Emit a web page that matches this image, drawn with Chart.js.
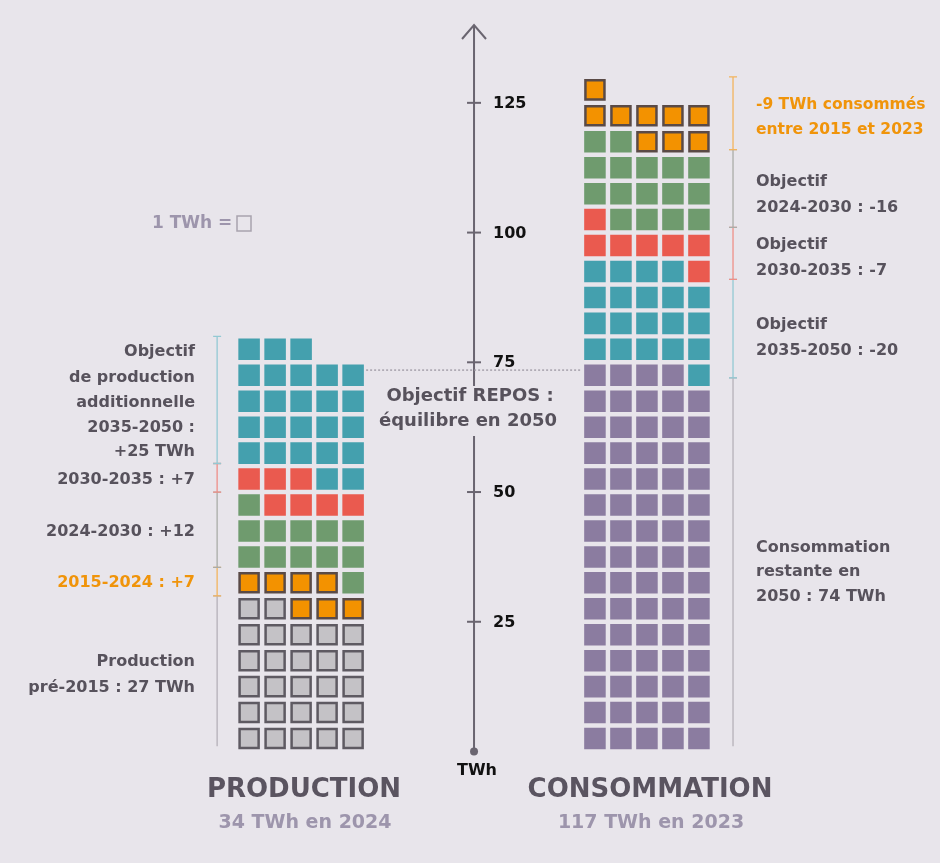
<!DOCTYPE html>
<html lang="fr">
<head>
<meta charset="utf-8">
<title>Production et consommation (TWh)</title>
<script src="https://cdn.jsdelivr.net/npm/chart.js@4/dist/chart.umd.min.js"></script>
<style>
  html, body { margin: 0; padding: 0; background: #E8E5EB; }
  #wrap { position: relative; width: 940px; height: 863px; }
</style>
</head>
<body>
<div id="wrap"><canvas id="chart"></canvas></div>
<script>
// Production, TWh par période (empilées du bas vers le haut)
const prodSeries = ['Production pré-2015', '2015-2024', '2024-2030', '2030-2035', '2035-2050'];
const prodValues = [27, 7, 12, 7, 25];

// Consommation, TWh par tranche (empilées du bas vers le haut)
const consSeries = ['Consommation restante en 2050', 'Objectif 2035-2050', 'Objectif 2030-2035', 'Objectif 2024-2030', '2015-2023'];
const consValues = [74, 20, 7, 16, 9];

// Graduations de l'axe vertical
const yTickValues = [25, 50, 75, 100, 125];

// Niveau d'équilibre visé (pointillés)
const equilibreLevel = 73.5;

// Étendue des accolades (TWh), même ordre que les séries
const prodBrackets = [[1, 30], [30, 35.5], [35.5, 50], [50, 55.5], [55.5, 80]];
const consBrackets = [[1, 72], [72, 91], [91, 101], [101, 116], [116, 130]];

// ---- mise en forme ----
const PER_ROW = 5;
const BG = '#E8E5EB';
const C = {
  grey: '#C4C2C6', greyEdge: '#5E5A62',
  orange: '#F39200', orangeEdge: '#5A4A46',
  green: '#6F9B6E', red: '#EA5A4F', teal: '#44A0AE', purple: '#8B7CA0',
  text: '#57525C', title: '#5A5460', sub: '#9D95AC', orangeText: '#F0940A',
  axis: '#6A6570'
};
const prodStyle = [
  { fill: C.grey, edge: C.greyEdge, bw: 2.5 },
  { fill: C.orange, edge: C.orangeEdge, bw: 2.5 },
  { fill: C.green }, { fill: C.red }, { fill: C.teal }
];
const consStyle = [
  { fill: C.purple }, { fill: C.teal }, { fill: C.red }, { fill: C.green },
  { fill: C.orange, edge: C.orangeEdge, bw: 2.5 }
];
const prodBracketColors = ['#B5B0B8', '#F2B45E', '#AAACA7', '#EE8F88', '#93C9D3'];
const consBracketColors = ['#B5B0B8', '#93C9D3', '#EE8F88', '#AAACA7', '#F2B45E'];

const PROD_X0 = -8.65;   // colonne gauche de la production (unité = une case)
const CONS_X0 = 4.65;    // colonne gauche de la consommation
const PROD_BRACKET_X = -9.88;
const CONS_BRACKET_X = 9.96;

// Une case = 1 TWh, rangées de 5, remplies de gauche à droite puis vers le haut
function waffle(values, x0) {
  let k = 0;
  return values.map(v => {
    const pts = [];
    for (let i = 0; i < v; i++, k++) {
      pts.push({ x: x0 + (k % PER_ROW), y: Math.floor(k / PER_ROW) * PER_ROW + PER_ROW / 2 });
    }
    return pts;
  });
}

function rowPitch(chart) {
  const y = chart.scales.y;
  return Math.abs(y.getPixelForValue(PER_ROW) - y.getPixelForValue(0));
}

function makeDataset(label, data, st) {
  const bw = st.bw || 0;
  const r = ctx => (rowPitch(ctx.chart) * 0.83 - bw) / Math.SQRT2;
  return {
    label, data,
    pointStyle: 'rect',
    backgroundColor: st.fill,
    borderColor: st.edge || st.fill,
    borderWidth: bw,
    pointRadius: r,
    pointHoverRadius: r,
    pointBorderWidth: bw,
    pointHoverBorderWidth: bw
  };
}

const prodPts = waffle(prodValues, PROD_X0);
const consPts = waffle(consValues, CONS_X0);
const datasets = [
  ...prodSeries.map((s, i) => makeDataset('Production ' + s, prodPts[i], prodStyle[i])),
  ...consSeries.map((s, i) => makeDataset('Consommation ' + s, consPts[i], consStyle[i]))
];

const FONT = '"DejaVu Sans", sans-serif';

function txt(ctx, s, x, y, size, color, align) {
  ctx.font = 'bold ' + size + 'px ' + FONT;
  ctx.fillStyle = color;
  ctx.textAlign = align || 'left';
  ctx.textBaseline = 'middle';
  ctx.fillText(s, x, y);
}

const decor = {
  id: 'decor',
  afterDatasetsDraw(chart) {
    const ctx = chart.ctx;
    const xs = chart.scales.x, ys = chart.scales.y;
    const ax = xs.getPixelForValue(0);
    const y0 = ys.getPixelForValue(0);
    const yTop = ys.getPixelForValue(ys.max);
    ctx.save();

    // axe vertical, interrompu derrière le libellé central
    const gapTop = 386, gapBottom = 436;
    ctx.strokeStyle = C.axis;
    ctx.lineWidth = 2;
    ctx.beginPath();
    ctx.moveTo(ax, y0); ctx.lineTo(ax, gapBottom);
    ctx.moveTo(ax, gapTop); ctx.lineTo(ax, yTop);
    ctx.stroke();
    // flèche
    ctx.beginPath();
    ctx.moveTo(ax - 12, yTop + 14); ctx.lineTo(ax, yTop); ctx.lineTo(ax + 12, yTop + 14);
    ctx.stroke();
    // origine
    ctx.fillStyle = C.axis;
    ctx.beginPath(); ctx.arc(ax, y0, 4, 0, Math.PI * 2); ctx.fill();
    // graduations
    yTickValues.forEach(v => {
      const py = ys.getPixelForValue(v);
      ctx.beginPath(); ctx.moveTo(ax - 7, py); ctx.lineTo(ax + 7, py); ctx.stroke();
      txt(ctx, String(v), ax + 19, py + 1, 16, '#111111');
    });
    txt(ctx, 'TWh', ax + 3, 771, 16, '#111111', 'center');

    // pointillés d'équilibre entre les deux colonnes
    const pe = ys.getPixelForValue(equilibreLevel);
    ctx.strokeStyle = '#9C97A2';
    ctx.lineWidth = 1.3;
    ctx.setLineDash([2, 2]);
    ctx.beginPath();
    ctx.moveTo(xs.getPixelForValue(PROD_X0 + PER_ROW - 0.5), pe);
    ctx.lineTo(xs.getPixelForValue(CONS_X0 - 0.5), pe);
    ctx.stroke();
    ctx.setLineDash([]);
    txt(ctx, 'Objectif REPOS :', ax - 4, 396, 18, C.text, 'center');
    txt(ctx, 'équilibre en 2050', ax - 6, 421, 18, C.text, 'center');

    // accolades
    function brackets(list, colors, xv) {
      const bx = xs.getPixelForValue(xv);
      ctx.lineWidth = 1.3;
      list.forEach((b, i) => {
        const a = ys.getPixelForValue(b[0]), t = ys.getPixelForValue(b[1]);
        ctx.strokeStyle = colors[i];
        ctx.beginPath();
        ctx.moveTo(bx, a); ctx.lineTo(bx, t);
        ctx.moveTo(bx - 4, t); ctx.lineTo(bx + 4, t);
        if (i > 0) { ctx.moveTo(bx - 4, a); ctx.lineTo(bx + 4, a); }
        ctx.stroke();
      });
    }
    brackets(prodBrackets, prodBracketColors, PROD_BRACKET_X);
    brackets(consBrackets, consBracketColors, CONS_BRACKET_X);

    // libellés de gauche
    const L = 195, FS = 16;
    [['Objectif', 352], ['de production', 378], ['additionnelle', 403], ['2035-2050 :', 428], ['+25 TWh', 452],
     ['2030-2035 : +7', 480], ['2024-2030 : +12', 532], ['Production', 662], ['pré-2015 : 27 TWh', 688]]
      .forEach(([s, y]) => txt(ctx, s, L, y, FS, C.text, 'right'));
    txt(ctx, '2015-2024 : +7', L, 583, FS, C.orangeText, 'right');

    // libellés de droite
    const R = 756;
    txt(ctx, '-9 TWh consommés', R, 105, 15.5, C.orangeText);
    txt(ctx, 'entre 2015 et 2023', R, 130, 15.5, C.orangeText);
    [['Objectif', 182], ['2024-2030 : -16', 208], ['Objectif', 245], ['2030-2035 : -7', 271],
     ['Objectif', 325], ['2035-2050 : -20', 351], ['Consommation', 548], ['restante en', 572], ['2050 : 74 TWh', 597]]
      .forEach(([s, y]) => txt(ctx, s, R, y, FS, C.text));

    // légende de l'unité
    txt(ctx, '1 TWh =', 152, 224, 17, C.sub);
    ctx.strokeStyle = '#A8A3AE';
    ctx.lineWidth = 1.5;
    ctx.strokeRect(237, 216, 14, 15);

    // titres
    txt(ctx, 'PRODUCTION', 304, 790, 26, C.title, 'center');
    txt(ctx, 'CONSOMMATION', 650, 790, 26, C.title, 'center');
    txt(ctx, '34 TWh en 2024', 305, 823, 19, C.sub, 'center');
    txt(ctx, '117 TWh en 2023', 651, 823, 19, C.sub, 'center');

    ctx.restore();
  }
};

new Chart(document.getElementById('chart'), {
  type: 'scatter',
  data: { datasets },
  options: {
    responsive: true,
    maintainAspectRatio: false,
    animation: false,
    events: [],
    layout: { padding: { top: 25, bottom: 111.5, left: 0, right: 0 } },
    plugins: { legend: { display: false }, tooltip: { enabled: false } },
    scales: {
      x: { type: 'linear', min: -18.23, max: 17.92, display: false },
      y: { type: 'linear', min: 0, max: 140, display: false }
    }
  },
  plugins: [decor]
});
</script>
</body>
</html>
